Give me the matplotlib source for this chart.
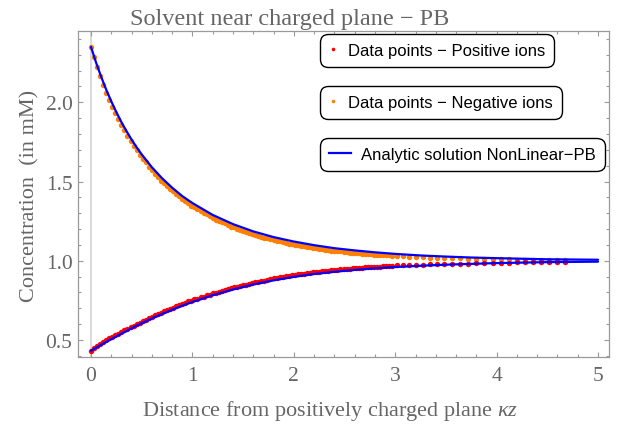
import matplotlib
matplotlib.use("Agg")
import matplotlib.pyplot as plt
from matplotlib.lines import Line2D
from matplotlib.ticker import MultipleLocator, FormatStrFormatter

# ---------------- data ----------------
kz_points = [
    0.00, 0.03, 0.06, 0.09, 0.12, 0.15, 0.18, 0.21, 0.24, 0.27,
    0.30, 0.33, 0.36, 0.39, 0.42, 0.45, 0.48, 0.51, 0.54, 0.57,
    0.60, 0.63, 0.66, 0.69, 0.72, 0.75, 0.78, 0.81, 0.84, 0.87,
    0.90, 0.93, 0.96, 0.99, 1.02, 1.05, 1.08, 1.11, 1.14, 1.17,
    1.20, 1.23, 1.26, 1.29, 1.32, 1.35, 1.38, 1.41, 1.44, 1.47,
    1.50, 1.53, 1.56, 1.59, 1.62, 1.65, 1.68, 1.71, 1.74, 1.77,
    1.80, 1.83, 1.86, 1.89, 1.92, 1.95, 1.98, 2.01, 2.04, 2.07,
    2.10, 2.13, 2.16, 2.19, 2.22, 2.25, 2.28, 2.31, 2.34, 2.37,
    2.40, 2.43, 2.46, 2.49, 2.52, 2.55, 2.58, 2.61, 2.64, 2.67,
    2.70, 2.73, 2.76, 2.79, 2.82, 2.85, 2.88, 2.91, 2.94, 2.97,
    3.02, 3.08, 3.14, 3.20, 3.27, 3.34, 3.41, 3.48, 3.56, 3.64,
    3.72, 3.80, 3.88, 3.96, 4.04, 4.12, 4.20, 4.28, 4.36, 4.44,
    4.52, 4.60, 4.67]

negative_ions = [
    2.350, 2.285, 2.221, 2.163, 2.112, 2.058, 2.017, 1.970, 1.933, 1.892,
    1.855, 1.823, 1.785, 1.756, 1.723, 1.698, 1.668, 1.641, 1.621, 1.594,
    1.572, 1.549, 1.531, 1.506, 1.491, 1.473, 1.452, 1.437, 1.419, 1.406,
    1.387, 1.374, 1.363, 1.347, 1.338, 1.324, 1.316, 1.303, 1.294, 1.280,
    1.270, 1.259, 1.253, 1.242, 1.236, 1.227, 1.215, 1.210, 1.201, 1.196,
    1.187, 1.183, 1.174, 1.169, 1.163, 1.155, 1.152, 1.145, 1.141, 1.134,
    1.131, 1.124, 1.122, 1.115, 1.113, 1.107, 1.105, 1.099, 1.097, 1.092,
    1.091, 1.086, 1.084, 1.079, 1.078, 1.073, 1.074, 1.069, 1.068, 1.064,
    1.063, 1.059, 1.059, 1.055, 1.056, 1.051, 1.051, 1.047, 1.048, 1.044,
    1.045, 1.041, 1.041, 1.038, 1.039, 1.035, 1.036, 1.033, 1.033, 1.030,
    1.030, 1.027, 1.026, 1.023, 1.022, 1.020, 1.019, 1.016, 1.016, 1.014,
    1.013, 1.012, 1.010, 1.010, 1.008, 1.009, 1.007, 1.007, 1.005, 1.005,
    1.004, 1.004, 1.003]

positive_ions = [
    0.433, 0.447, 0.463, 0.477, 0.489, 0.497, 0.510, 0.519, 0.532, 0.540,
    0.550, 0.563, 0.570, 0.582, 0.590, 0.602, 0.609, 0.620, 0.627, 0.638,
    0.646, 0.656, 0.662, 0.673, 0.681, 0.687, 0.697, 0.704, 0.713, 0.719,
    0.729, 0.734, 0.743, 0.748, 0.756, 0.760, 0.768, 0.772, 0.781, 0.786,
    0.794, 0.799, 0.805, 0.808, 0.816, 0.820, 0.827, 0.831, 0.837, 0.840,
    0.846, 0.849, 0.856, 0.859, 0.865, 0.867, 0.873, 0.875, 0.881, 0.883,
    0.889, 0.891, 0.895, 0.897, 0.902, 0.904, 0.909, 0.910, 0.914, 0.915,
    0.919, 0.920, 0.925, 0.926, 0.930, 0.930, 0.934, 0.934, 0.938, 0.939,
    0.943, 0.943, 0.946, 0.946, 0.950, 0.950, 0.953, 0.953, 0.956, 0.956,
    0.958, 0.958, 0.961, 0.961, 0.963, 0.963, 0.965, 0.965, 0.967, 0.968,
    0.970, 0.970, 0.974, 0.974, 0.976, 0.977, 0.979, 0.980, 0.981, 0.981,
    0.982, 0.983, 0.984, 0.986, 0.987, 0.988, 0.989, 0.990, 0.991, 0.992,
    0.993, 0.993, 0.994]

kz_curve = [0.00, 0.05, 0.10, 0.15, 0.20, 0.25, 0.30, 0.35, 0.40, 0.45,
            0.50, 0.60, 0.70, 0.80, 0.90, 1.00, 1.20, 1.40, 1.60, 1.80,
            2.00, 2.20, 2.40, 2.60, 2.80, 3.00, 3.25, 3.50, 3.75, 4.00,
            4.50, 5.00]
analytic_negative = [2.350, 2.251, 2.162, 2.080, 2.006, 1.938, 1.875, 1.818,
                     1.765, 1.716, 1.671, 1.590, 1.521, 1.461, 1.408, 1.364,
                     1.289, 1.231, 1.185, 1.149, 1.121, 1.098, 1.079, 1.065,
                     1.053, 1.043, 1.033, 1.026, 1.020, 1.016, 1.009, 1.006]
analytic_positive = [0.432, 0.450, 0.469, 0.487, 0.505, 0.522, 0.539, 0.556,
                     0.573, 0.589, 0.605, 0.635, 0.663, 0.690, 0.716, 0.739,
                     0.782, 0.818, 0.850, 0.876, 0.898, 0.916, 0.930, 0.942,
                     0.952, 0.960, 0.968, 0.975, 0.980, 0.985, 0.991, 0.994]

legend_labels = ["Data points \u2212 Positive ions",
                 "Data points \u2212 Negative ions",
                 "Analytic solution NonLinear\u2212PB"]

# ---------------- styling ----------------
plt.rcParams['font.family'] = ['Liberation Serif', 'DejaVu Serif']
plt.rcParams['mathtext.fontset'] = 'custom'
plt.rcParams['mathtext.rm'] = 'Liberation Serif'
plt.rcParams['mathtext.it'] = 'Liberation Serif:italic'

GRAY_TXT = '#666666'
GRAY_FRAME = '#9a9a9a'
RED = '#ff0000'
ORANGE = '#ff8000'
BLUE = '#0000ff'

W, H = 622, 427
fig = plt.figure(figsize=(W / 100, H / 100), dpi=100)
L, R, T, B = 78, 609, 31.7, 357.7
ax = fig.add_axes([L / W, 1 - B / H, (R - L) / W, (B - T) / H])

ax.axvline(0, color='#d4d4d4', lw=1.2, zorder=0)

ax.plot(kz_points, negative_ions, ls='none', marker='o', ms=3.9,
        mec='none', mfc=ORANGE, zorder=2)
ax.plot(kz_points, positive_ions, ls='none', marker='o', ms=3.9,
        mec='none', mfc=RED, zorder=2)
ax.plot(kz_curve, analytic_negative, color=BLUE, lw=1.6, zorder=3,
        solid_capstyle='round')
ax.plot(kz_curve, analytic_positive, color=BLUE, lw=1.6, zorder=3,
        solid_capstyle='round')

ax.set_xlim(-0.128, 5.108)
ax.set_ylim(0.394, 2.452)

ax.xaxis.set_major_locator(MultipleLocator(1))
ax.xaxis.set_minor_locator(MultipleLocator(0.2))
ax.yaxis.set_major_locator(MultipleLocator(0.5))
ax.yaxis.set_minor_locator(MultipleLocator(0.1))
ax.xaxis.set_major_formatter(FormatStrFormatter('%d'))
ax.yaxis.set_major_formatter(FormatStrFormatter('%.1f'))

for s in ax.spines.values():
    s.set_color(GRAY_FRAME)
    s.set_linewidth(0.9)

ax.tick_params(which='both', direction='in', top=True, right=True,
               color=GRAY_FRAME, width=0.8, labelcolor=GRAY_TXT,
               labelsize=15.5)
ax.tick_params(which='major', length=3.6)
ax.tick_params(which='minor', length=2.0)
ax.tick_params(axis='x', which='major', pad=7)
ax.tick_params(axis='y', which='major', pad=4)

fig.text(290 / W, 1 - 25 / H, "Solvent near charged plane \u2212 PB",
         ha='center', va='baseline', fontsize=17.5, color=GRAY_TXT)
fig.text(330.5 / W, 1 - 416 / H,
         r"Distance from positively charged plane $\kappa z$",
         ha='center', va='baseline', fontsize=16, color=GRAY_TXT)
fig.text(30 / W, 1 - 196 / H, "Concentration  (in mM)", rotation=90,
         ha='center', va='center', fontsize=16, color=GRAY_TXT)

# ---------------- legends: three separate rounded boxes ----------------
handles = [
    Line2D([], [], ls='none', marker='o', ms=2.6, mec='none', mfc=RED),
    Line2D([], [], ls='none', marker='o', ms=2.6, mec='none', mfc=ORANGE),
    Line2D([], [], color=BLUE, lw=1.6),
]
tops = [35, 87, 138.5]
hlens = [0.45, 0.45, 1.3]
htpads = [0.68, 0.68, 0.6]
for h, lab, top, hl, hp in zip(handles, legend_labels, tops, hlens, htpads):
    leg = fig.legend(handles=[h], labels=[lab], loc='upper left',
                     bbox_to_anchor=(320 / W, 1 - top / H),
                     bbox_transform=fig.transFigure, borderaxespad=0,
                     prop={'family': 'Liberation Sans', 'size': 12},
                     frameon=True, fancybox=True, framealpha=1,
                     edgecolor='black', facecolor='white',
                     borderpad=0.55, handlelength=hl, handletextpad=hp,
                     handleheight=0.7)
    fr = leg.get_frame()
    fr.set_linewidth(1.0)
    fr.set_boxstyle('round', pad=0, rounding_size=0.5)

fig.savefig('out.png', dpi=100)
